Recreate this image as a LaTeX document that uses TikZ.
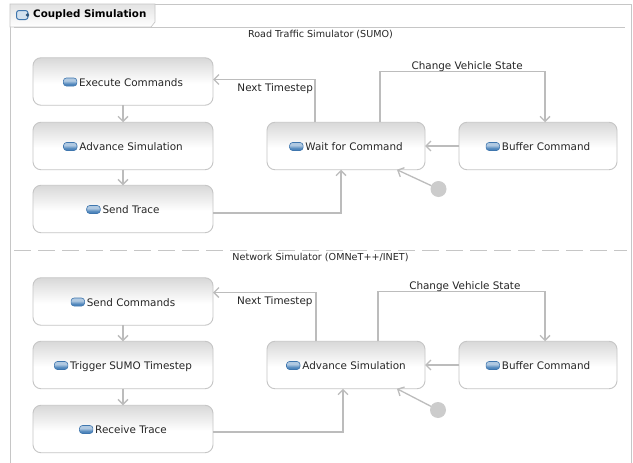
\documentclass[tikz,border=0pt]{standalone}
\usepackage{fontspec}
\setmainfont{DejaVu Sans}
\usetikzlibrary{arrows.meta}
\definecolor{linegray}{HTML}{BCBCBC}
\definecolor{boxgray}{HTML}{C6C6C6}
\definecolor{topgray}{HTML}{D8D8D8}
\definecolor{iconblue}{HTML}{4F86BC}
\definecolor{iconedge}{HTML}{3F76AE}
\pgfdeclareverticalshading{statefill}{100bp}{color(0bp)=(white); color(48bp)=(white); color(75bp)=(topgray); color(100bp)=(topgray)}
\pgfdeclareverticalshading{tabfill}{100bp}{color(0bp)=(white); color(25bp)=(white); color(75bp)=(topgray!70); color(100bp)=(topgray!70)}
\pgfdeclareverticalshading{iconfill}{100bp}{color(0bp)=(iconblue); color(38bp)=(iconblue); color(58bp)=(iconblue!45); color(100bp)=(iconblue!45)}
\newcommand{\stateicon}{\tikz[baseline=0pt]\draw[draw=iconedge, line width=.6pt, rounded corners=3pt, shade, shading=iconfill] (0pt,0pt) rectangle (13.5pt,8pt);\hspace{2pt}}
\begin{document}
\begin{tikzpicture}[
    x=1pt, y=-1pt,
    arrowstyle/.style={draw=linegray, line width=1.3pt, -{Straight Barb[length=5pt,width=10pt]}},
    framestyle/.style={draw=boxgray, line width=.9pt},
    state/.style={rectangle, draw=boxgray, line width=.9pt, rounded corners=8pt, shade, shading=statefill,
        minimum width=180pt, minimum height=47.5pt, outer sep=0pt, inner sep=0pt, text=black!85,
        text height=11pt, text depth=2pt, font=\fontsize{10.4}{12}\selectfont},
    widestate/.style={state, minimum width=158pt},
    initial/.style={circle, fill=boxgray!90, minimum size=16pt, inner sep=0pt, outer sep=0pt},
    region/.style={font=\fontsize{9.6}{11}\selectfont, inner sep=0pt, text=black!85},
    edgelabel/.style={font=\fontsize{10.4}{12}\selectfont, inner sep=0pt, text=black!85}
]
\useasboundingbox (0,0) rectangle (633,463);
\fill[white] (0,0) rectangle (633,463);

% frame and tab
\draw[framestyle] (10,463) -- (10,4) -- (631,4) -- (631,463);
\draw[framestyle, line width=.7pt, shade, shading=tabfill] (10,4) -- (155,4) -- (155,22) -- (151,27) -- (10,27) -- cycle;
\draw[framestyle] (14,27) -- (625,27);
\draw[framestyle, dash pattern=on 17pt off 7pt] (14,250) -- (627,250);
\draw[iconedge, line width=1pt, fill=iconblue!25, rounded corners=2.5pt] (16.5,10.5) rectangle (28,19.5);
\fill[iconedge!70!black] (27.5,15) circle (1.8);
\node (Title) [font=\bfseries\fontsize{10.3}{12}\selectfont, inner sep=0pt, anchor=west] at (33,15) {Coupled Simulation};

% road traffic simulator
\node (RoadLabel) [region] at (320.5,34) {Road Traffic Simulator (SUMO)};
\node (Execute) [state] at (123,81.5) {\stateicon Execute Commands};
\node (Advance01) [state] at (123,146) {\stateicon Advance Simulation};
\node (SendTrace) [state] at (123,209) {\stateicon Send Trace};
\node (Wait) [widestate] at (346,146) {\stateicon Wait for Command};
\node (Buffer01) [widestate] at (538,146) {\stateicon Buffer Command};
\node (Init01) [initial] at (438.5,189) {};

\draw[arrowstyle] (Execute) -- (Advance01);
\draw[arrowstyle] (Advance01) -- (SendTrace);
\draw[arrowstyle] ([yshift=-4pt]SendTrace.east) -| ([xshift=-5pt]Wait.south);
\draw[arrowstyle] (Buffer01) -- (Wait);
\draw[arrowstyle] (Init01) -- ([xshift=-28pt]Wait.south east);
\draw[arrowstyle] ([xshift=-31pt]Wait.north) |- ([yshift=2pt]Execute.east)
    node (NextLabel01) [edgelabel, pos=.695, anchor=north, yshift=-3.5pt] {Next Timestep};
\draw[arrowstyle] ([xshift=34pt]Wait.north) -- ++(0,-51) -| ([xshift=7pt]Buffer01.north)
    node (ChangeLabel01) [edgelabel, pos=.264, anchor=south, yshift=-1pt] {Change Vehicle State};

% network simulator
\node (NetLabel) [region] at (320.5,257) {Network Simulator (OMNeT++/INET)};
\node (SendCommands) [state] at (123,301.5) {\stateicon Send Commands};
\node (Trigger) [state] at (123,365) {\stateicon Trigger SUMO Timestep};
\node (Receive) [state] at (123,429) {\stateicon Receive Trace};
\node (Advance02) [widestate] at (346,365) {\stateicon Advance Simulation};
\node (Buffer02) [widestate] at (538,365) {\stateicon Buffer Command};
\node (Init02) [initial] at (438,410) {};

\draw[arrowstyle] (SendCommands) -- (Trigger);
\draw[arrowstyle] (Trigger) -- (Receive);
\draw[arrowstyle] ([yshift=-3pt]Receive.east) -| ([xshift=-3pt]Advance02.south);
\draw[arrowstyle] (Buffer02) -- (Advance02);
\draw[arrowstyle] (Init02) -- ([xshift=-28pt]Advance02.south east);
\draw[arrowstyle] ([xshift=-30pt]Advance02.north) |- ([yshift=9pt]SendCommands.east)
    node (NextLabel02) [edgelabel, pos=.7, anchor=north, yshift=-3.5pt] {Next Timestep};
\draw[arrowstyle] ([xshift=32pt]Advance02.north) -- ++(0,-50) -| ([xshift=7pt]Buffer02.north)
    node (ChangeLabel02) [edgelabel, pos=.26, anchor=south, yshift=-1pt] {Change Vehicle State};
\end{tikzpicture}
\end{document}
